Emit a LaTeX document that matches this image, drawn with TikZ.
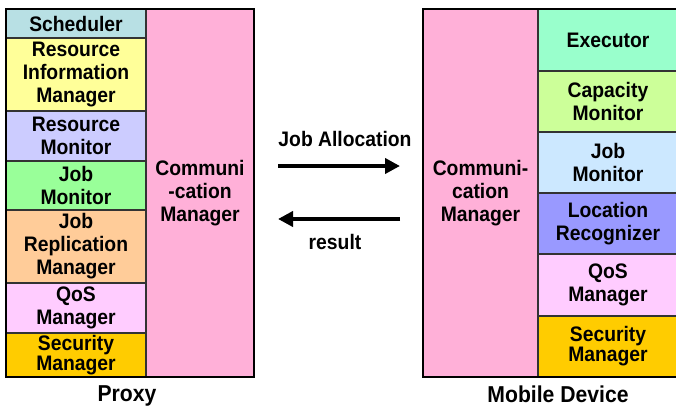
\documentclass[tikz,border=0pt]{standalone}
\usepackage{fontspec}
\setmainfont{Liberation Sans}[FakeStretch=0.92]
\usepackage{tikz}
\usetikzlibrary{arrows.meta}

\definecolor{schedc}{HTML}{B8E0E4}
\definecolor{rimc}{HTML}{FFFF99}
\definecolor{rmc}{HTML}{CCCCFF}
\definecolor{jmc}{HTML}{99FF99}
\definecolor{jrmc}{HTML}{FFCC99}
\definecolor{qosc}{HTML}{FFCCFF}
\definecolor{secc}{HTML}{FFCC00}
\definecolor{commc}{HTML}{FFB0D8}
\definecolor{execc}{HTML}{99FFCC}
\definecolor{capc}{HTML}{CCFF99}
\definecolor{mjmc}{HTML}{CCE8FF}
\definecolor{locc}{HTML}{9999FF}
\definecolor{linec}{HTML}{333333}

\tikzset{
  cell/.style={draw=linec, line width=1.2pt, inner sep=0pt, align=center,
    font=\fontsize{21}{23}\selectfont\bfseries},
  tight/.style={font=\fontsize{21}{17}\selectfont\bfseries},
  frame/.style={draw=black, line width=2.6pt},
  label/.style={font=\fontsize{23}{26}\selectfont\bfseries, anchor=base, inner sep=0pt},
  msg/.style={font=\fontsize{21}{23}\selectfont\bfseries},
  flow/.style={line width=4pt, -{Triangle[length=15pt,width=15pt]}}
}

\begin{document}
\begin{tikzpicture}[x=1pt, y=-1pt]
\useasboundingbox (0,0) rectangle (676,407);
\clip (0,0) rectangle (676,407);
\fill[white] (0,0) rectangle (676,407);

% proxy side
\node[cell, fill=schedc, minimum width=140pt, minimum height=29pt] (sched) at (76,23.5) {Scheduler};
\node[cell, fill=rimc, minimum width=140pt, minimum height=73pt] (rim) at (76,74.5) {Resource\\Information\\Manager};
\node[cell, fill=rmc, minimum width=140pt, minimum height=50pt] (rmon) at (76,136) {Resource\\Monitor};
\node[cell, fill=jmc, minimum width=140pt, minimum height=49pt] (jmon) at (76,185.5) {Job\\Monitor};
\node[cell, fill=jrmc, minimum width=140pt, minimum height=73pt] (jrm) at (76,246.5) {Job\\Replication\\Manager};
\node[cell, fill=qosc, minimum width=140pt, minimum height=50pt] (pqos) at (76,308) {QoS\\Manager};
\node[cell, tight, fill=secc, minimum width=140pt, minimum height=44pt] (psec) at (76,355) {Security\\Manager};
\node[cell, fill=commc, minimum width=108pt, minimum height=368pt] (pcomm) at (200,193) {Communi\\-cation\\Manager};
\draw[frame] (6,9) rectangle (254,377);
\node[label] (proxy) at (127,401) {Proxy};

% mobile side
\node[cell, fill=commc, minimum width=115pt, minimum height=368pt] (mcomm) at (480.5,193) {Communi-\\cation\\Manager};
\node[cell, fill=execc, minimum width=140pt, minimum height=62pt] (exec) at (608,40) {Executor};
\node[cell, fill=capc, minimum width=140pt, minimum height=61pt] (cap) at (608,101.5) {Capacity\\Monitor};
\node[cell, fill=mjmc, minimum width=140pt, minimum height=61pt] (mjmon) at (608,162.5) {Job\\Monitor};
\node[cell, fill=locc, minimum width=140pt, minimum height=61pt] (loc) at (608,223.5) {Location\\Recognizer};
\node[cell, fill=qosc, minimum width=140pt, minimum height=62pt] (mqos) at (608,285) {QoS\\Manager};
\node[cell, tight, fill=secc, minimum width=140pt, minimum height=61pt] (msec) at (608,346.5) {Security\\Manager};
\draw[frame] (423,9) rectangle (678,377);
\node[label] (mobile) at (558,402) {Mobile Device};

% messages
\coordinate (jaleft) at (278,166);
\coordinate (jaright) at (400,166);
\coordinate (resleft) at (278,219);
\coordinate (resright) at (400,219);
\draw[flow] (jaleft) -- (jaright);
\draw[flow] (resright) -- (resleft);
\node[msg] (jalloc) at (345,139) {Job Allocation};
\node[msg] (result) at (335,242) {result};
\end{tikzpicture}
\end{document}
